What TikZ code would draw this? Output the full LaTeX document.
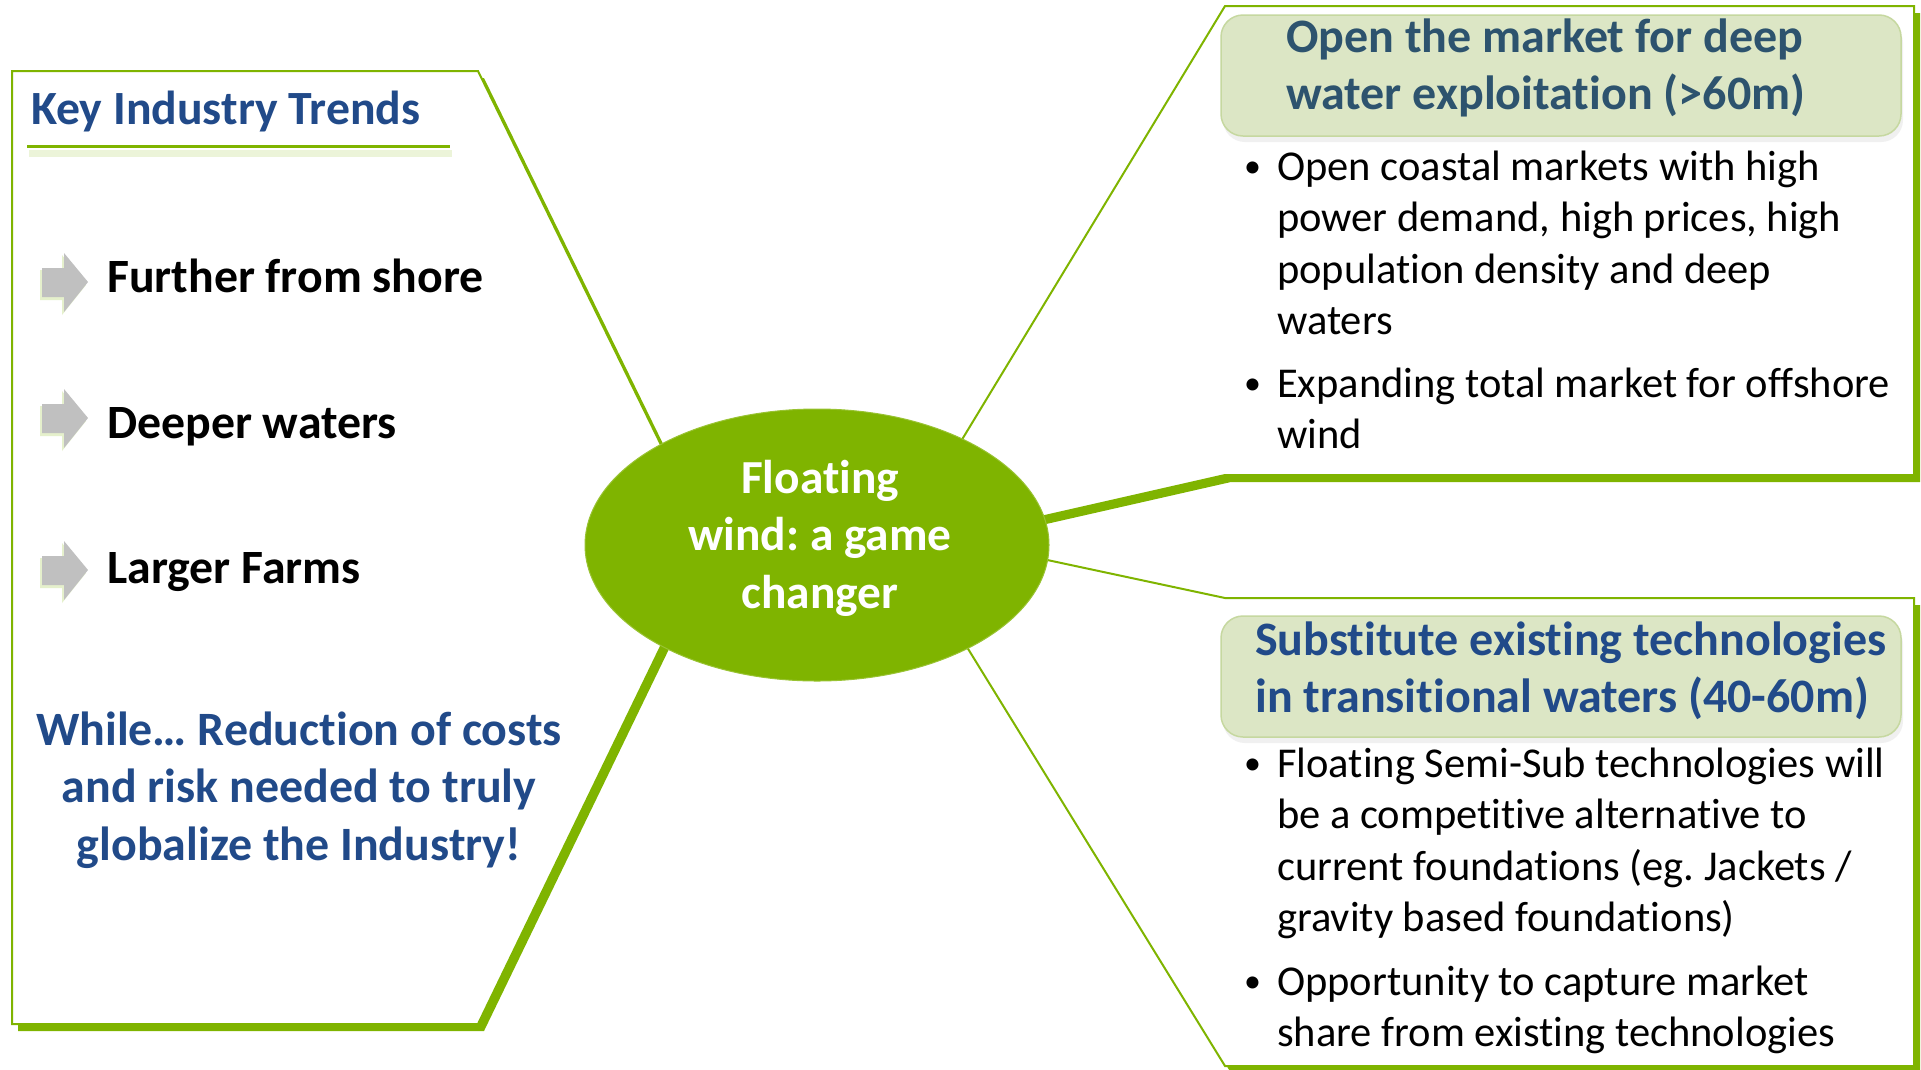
\documentclass[tikz,border=0pt]{standalone}
\usepackage{fontspec}
\setmainfont{Carlito}[Ligatures=NoCommon]
\usetikzlibrary{shapes.geometric}

\definecolor{leaf}{RGB}{127,180,0}
\definecolor{navy}{RGB}{33,74,137}
\definecolor{slate}{RGB}{45,83,110}
\definecolor{paleleaf}{RGB}{220,230,197}
\definecolor{leafedge}{RGB}{198,216,160}
\definecolor{arrowgrey}{RGB}{192,192,192}

% a bullet, then the lines of the item in a top-aligned box
\newcommand{\bulletblock}[1]{\makebox[33pt][l]{\raisebox{3pt}{\fontsize{34}{34}\selectfont\textbullet}}\parbox[t]{680pt}{\raggedright #1}}

\begin{document}
\frenchspacing
\begin{tikzpicture}[x=1pt,y=-1pt,
  panel/.style={fill=white, draw=leaf, line width=2pt, line join=miter},
  panelshadow/.style={fill=leaf, draw=none},
  hub/.style={ellipse, fill=leaf, draw=leaf!80!white, line width=1pt, minimum width=464pt, minimum height=272pt, inner sep=0pt},
  headbox/.style={fill=paleleaf, draw=leafedge, line width=1.5pt, rounded corners=22pt},
  headshadow/.style={fill=black!6, draw=none, rounded corners=22pt},
  trend/.style={anchor=base west, inner sep=0pt, font=\fontsize{47.8}{56}\selectfont\bfseries},
  headtitle/.style={anchor=base west, inner sep=0pt, font=\fontsize{48}{57}\selectfont\bfseries},
  bodytext/.style={anchor=base west, inner sep=0pt, font=\fontsize{42.5}{51.5}\selectfont},
  trendarrow/.style={fill=arrowgrey, draw=none},
  trendarrowglow/.style={fill=leaf!20, draw=none}
]
\useasboundingbox (0,0) rectangle (1921,1069);

% ---- panel shadows (green, offset right and down) ----
\begin{scope}[shift={(6,7)}]
  \fill[panelshadow] (12,71) -- (478,71) -- (710,545) -- (478,1024) -- (12,1024) -- cycle;
  \fill[panelshadow] (895,550) -- (1225,6) -- (1914,6) -- (1914,475) -- (1225,475) -- cycle;
  \fill[panelshadow] (893,527) -- (1225,598) -- (1914,598) -- (1914,1066) -- (1225,1066) -- cycle;
\end{scope}

% ---- callout panels ----
\draw[panel] (12,71) -- (478,71) -- (710,545) -- (478,1024) -- (12,1024) -- cycle;
\draw[panel] (895,550) -- (1225,6) -- (1914,6) -- (1914,475) -- (1225,475) -- cycle;
\draw[panel] (893,527) -- (1225,598) -- (1914,598) -- (1914,1066) -- (1225,1066) -- cycle;

% ---- central ellipse ----
\node[hub] (hub) at (817,545) {};
\node[anchor=base, inner sep=0pt, text=white, font=\fontsize{47.4}{57.5}\selectfont\bfseries] (hubtext) at (820,493)
  {\parbox[t]{420pt}{\centering Floating\\ wind: a game\\ changer}};

% ---- left panel: trends ----
\node[anchor=base west, inner sep=0pt, text=navy, font=\fontsize{47.7}{56}\selectfont\bfseries] (keytitle) at (31,124) {Key Industry Trends};
\draw[leaf!15, line width=7pt] (29,153) -- (452,153);
\draw[leaf, line width=3pt] (27,146) -- (450,146);

\foreach \c/\nm in {282/a1, 418/a2, 570/a3}{
  \fill[trendarrowglow] (40,\c-12) -- (62,\c-12) -- (62,\c-27) -- (86,\c+3) -- (62,\c+33) -- (62,\c+18) -- (40,\c+18) -- cycle;
  \fill[trendarrow] (42,\c-14) -- (64,\c-14) -- (64,\c-29) -- (88,\c) -- (64,\c+30) -- (64,\c+15) -- (42,\c+15) -- cycle;
}
\node[trend] (t1) at (107,292) {Further from shore};
\node[trend] (t2) at (107,438) {Deeper waters};
\node[trend] (t3) at (107,583) {Larger Farms};

\node[anchor=base, inner sep=0pt, text=navy, font=\fontsize{47.9}{57.5}\selectfont\bfseries] (while) at (299,745)
  {\parbox[t]{640pt}{\centering While\ldots{} Reduction of costs\\ and risk needed to truly\\ globalize the Industry!}};

% ---- upper right panel ----
\fill[headshadow] (1223,21) rectangle (1903,142);
\draw[headbox] (1221,15) rectangle (1901,136);
\node[headtitle, text=slate] (deeptitle) at (1286,52)
  {\parbox[t]{640pt}{\raggedright Open the market for deep\\ water exploitation (>60m)}};
\node[bodytext] (deep1) at (1244,180)
  {\bulletblock{Open coastal markets with high\\ power demand, high prices, high\\ population density and deep\\ waters}};
\node[bodytext] (deep2) at (1244,397)
  {\bulletblock{Expanding total market for offshore\\ wind}};

% ---- lower right panel ----
\fill[headshadow] (1223,622) rectangle (1903,743);
\draw[headbox] (1221,616) rectangle (1901,737);
\node[headtitle, text=navy] (transtitle) at (1255,655)
  {\parbox[t]{660pt}{\raggedright Substitute existing technologies\\ in transitional waters (40-60m)}};
\node[bodytext] (trans1) at (1244,777)
  {\bulletblock{Floating Semi-Sub technologies will\\ be a competitive alternative to\\ current foundations (eg. Jackets /\\ gravity based foundations)}};
\node[bodytext] (trans2) at (1244,995)
  {\bulletblock{Opportunity to capture market\\ share from existing technologies}};
\end{tikzpicture}
\end{document}
